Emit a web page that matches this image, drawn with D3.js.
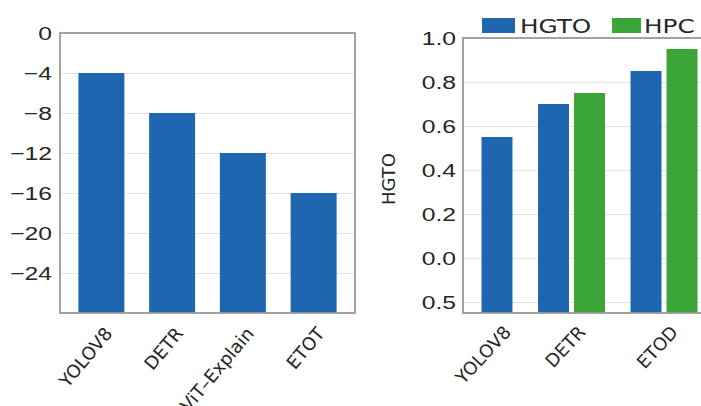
<!DOCTYPE html>
<html>
<head>
<meta charset="utf-8">
<script src="https://cdn.jsdelivr.net/npm/d3@7"></script>
<style>
  body { margin: 0; background: #fff; }
  svg { display: block; font-family: "DejaVu Sans", sans-serif; }
</style>
</head>
<body>
<svg id="root" width="701" height="406"></svg>
<script>
// left panel data
const modelsA = ["YOLOV8", "DETR", "ViT\u2013Explain", "ETOT"];
const scoresA = [-4, -8, -12, -16];
const ticksA = [0, -4, -8, -12, -16, -20, -24];

// right panel data
const modelsB = ["YOLOV8", "DETR", "ETOD"];
const seriesB = ["HGTO", "HPC"];
const hgtoB = [0.55, 0.70, 0.85];
const hpcB = [null, 0.75, 0.95];
const ticksB = [-0.2, 0, 0.2, 0.4, 0.6, 0.8, 1.0];
const tickLabelsB = ["0.5", "0.0", "0.2", "0.4", "0.6", "0.8", "1.0"];

const blue = "#1f66b1", green = "#3ba537";
const textCol = "#262626", gridCol = "#e4e4e4", frameCol = "#9a9a9a";
const stretch = 1.3; // the reference text is wide

let svg = d3.select("#root");

function styleTicks(g, pad) {
  g.select(".domain").remove();
  g.selectAll(".tick line").remove();
  g.selectAll(".tick text")
    .attr("x", -pad / stretch)
    .attr("transform", `scale(${stretch},1)`)
    .attr("fill", textCol)
    .style("font-size", "19px");
}

// ---------- left panel ----------
(function () {
  let L = { x0: 60, x1: 355, y0: 33, y1: 313 };

  let x = d3.scaleBand().domain(modelsA).range([L.x0, L.x1])
    .paddingInner(0.35).paddingOuter(0.26);
  let y = d3.scaleLinear().domain([-28, 0]).range([L.y1, L.y0]);

  let g = svg.append("g");

  g.append("g")
    .attr("transform", `translate(${L.x0},0)`)
    .call(d3.axisLeft(y).tickValues(ticksA).tickSize(-(L.x1 - L.x0)).tickFormat(""))
    .call(a => a.select(".domain").remove())
    .call(a => a.selectAll("line").attr("stroke", gridCol));

  g.selectAll(".barA")
    .data(modelsA)
    .enter().append("rect")
    .attr("class", "barA")
    .attr("x", d => x(d))
    .attr("width", x.bandwidth())
    .attr("y", (d, i) => y(scoresA[i]))
    .attr("height", (d, i) => y(-28) - y(scoresA[i]))
    .attr("fill", blue);

  g.append("rect")
    .attr("x", L.x0).attr("y", L.y0)
    .attr("width", L.x1 - L.x0).attr("height", L.y1 - L.y0)
    .attr("fill", "none").attr("stroke", frameCol).attr("stroke-width", 1.8);

  g.append("g")
    .attr("transform", `translate(${L.x0},0)`)
    .call(d3.axisLeft(y).tickValues(ticksA).tickFormat(d3.format("d")))
    .call(a => styleTicks(a, 8));

  g.selectAll(".labA")
    .data(modelsA)
    .enter().append("text")
    .attr("class", "labA")
    .attr("text-anchor", "end")
    .attr("fill", textCol)
    .style("font-size", "18px")
    .attr("transform", d => `translate(${x(d) + x.bandwidth() / 2 + 12},${L.y1 + 21}) rotate(-50)`)
    .text(d => d);
})();

// ---------- right panel ----------
(function () {
  let R = { x0: 463, x1: 716, y0: 38, y1: 313 };
  let groupGap = 0.57, barW = 0.86;
  let values = [hgtoB, hpcB];

  // bars are laid out one slot each, with a gap between model groups
  let bars = [], groups = [], slot = 0;
  modelsB.forEach((m, gi) => {
    let members = [];
    seriesB.forEach((s, si) => {
      let v = values[si][gi];
      if (v == null) return;
      let b = { model: m, series: s, value: v, pos: slot + gi * groupGap };
      bars.push(b);
      members.push(b.pos);
      slot++;
    });
    groups.push({ model: m, pos: d3.mean(members) });
  });

  let lastPos = d3.max(bars, b => b.pos);
  let x = d3.scaleLinear().domain([-0.944, lastPos + 0.944]).range([R.x0, R.x1]);
  let y = d3.scaleLinear().domain([-0.25, 1.0]).range([R.y1, R.y0]);
  let color = d3.scaleOrdinal().domain(seriesB).range([blue, green]);

  let g = svg.append("g");

  g.append("g")
    .attr("transform", `translate(${R.x0},0)`)
    .call(d3.axisLeft(y).tickValues(ticksB).tickSize(-(R.x1 - R.x0)).tickFormat(""))
    .call(a => a.select(".domain").remove())
    .call(a => a.selectAll("line").attr("stroke", gridCol));

  let bw = x(barW) - x(0);
  g.selectAll(".barB")
    .data(bars)
    .enter().append("rect")
    .attr("class", "barB")
    .attr("x", d => x(d.pos) - bw / 2)
    .attr("width", bw)
    .attr("y", d => y(d.value))
    .attr("height", d => y(-0.25) - y(d.value))
    .attr("fill", d => color(d.series));

  g.append("rect")
    .attr("x", R.x0).attr("y", R.y0)
    .attr("width", R.x1 - R.x0).attr("height", R.y1 - R.y0)
    .attr("fill", "none").attr("stroke", frameCol).attr("stroke-width", 1.8);

  g.append("g")
    .attr("transform", `translate(${R.x0},0)`)
    .call(d3.axisLeft(y).tickValues(ticksB).tickFormat((d, i) => tickLabelsB[i]))
    .call(a => styleTicks(a, 7));

  g.selectAll(".labB")
    .data(groups)
    .enter().append("text")
    .attr("class", "labB")
    .attr("text-anchor", "end")
    .attr("fill", textCol)
    .style("font-size", "18px")
    .attr("transform", d => `translate(${x(d.pos) + 15},${R.y1 + 20}) rotate(-47)`)
    .text(d => d.model);

  g.append("text")
    .attr("text-anchor", "middle")
    .attr("fill", textCol)
    .style("font-size", "18px")
    .attr("transform", `translate(395,179) rotate(-90)`)
    .text("HGTO");

  // legend
  let legendX = [482, 612];
  let leg = g.selectAll(".leg")
    .data(seriesB)
    .enter().append("g")
    .attr("class", "leg")
    .attr("transform", (d, i) => `translate(${legendX[i]},18)`);
  leg.append("rect")
    .attr("width", (d, i) => i === 0 ? 33 : 29)
    .attr("height", 15)
    .attr("fill", d => color(d));
  leg.append("text")
    .attr("x", (d, i) => (i === 0 ? 38 : 32) / stretch)
    .attr("y", 15)
    .attr("transform", `scale(${stretch},1)`)
    .attr("fill", textCol)
    .style("font-size", "19px")
    .text(d => d);
})();
</script>
</body>
</html>
